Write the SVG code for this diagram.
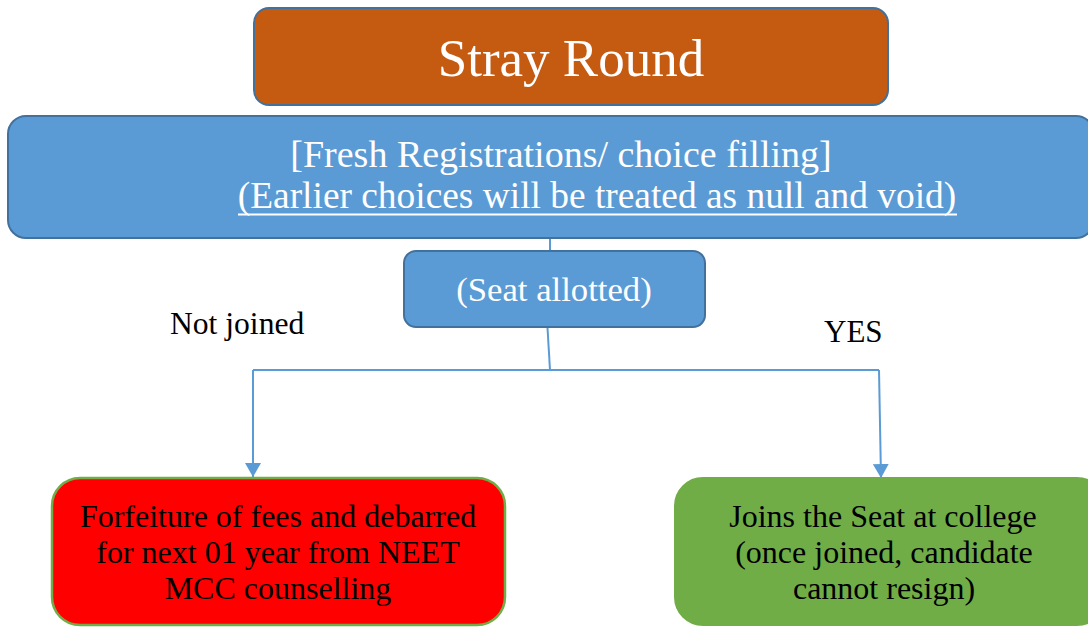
<svg xmlns="http://www.w3.org/2000/svg" width="1088" height="627" viewBox="0 0 1088 627">
<style>
text{font-family:'Liberation Serif','Times New Roman',serif;}
.w{fill:#FFFFFF;}
.k{fill:#000000;}
.c{fill:none;stroke:#5B9BD5;stroke-width:2;}
</style>
<defs>
<marker id="ah" markerUnits="userSpaceOnUse" markerWidth="16" markerHeight="16" refX="14" refY="8" orient="auto">
<path d="M0,0 L14,8 L0,16 Z" fill="#5B9BD5"/>
</marker>
</defs>
<rect width="1088" height="627" fill="#FFFFFF"/>
<g id="connectors">
<line class="c" x1="550" y1="238" x2="550" y2="251"/>
<line class="c" x1="547.5" y1="328" x2="550" y2="370"/>
<polyline class="c" points="253,370 879,370"/>
<line class="c" x1="253" y1="370" x2="253" y2="477" marker-end="url(#ah)"/>
<line class="c" x1="879" y1="370" x2="881" y2="478" marker-end="url(#ah)"/>
</g>
<g id="stray-round">
<rect x="254" y="8" width="634" height="97" rx="15" fill="#C55A11" stroke="#41719C" stroke-width="2"/>
<text class="w" x="571" y="76" font-size="53" text-anchor="middle">Stray Round</text>
</g>
<g id="fresh-registration">
<rect x="8" y="116" width="1086" height="122" rx="18" fill="#5B9BD5" stroke="#41719C" stroke-width="2"/>
<text class="w" x="561" y="167" font-size="38" text-anchor="middle">[Fresh Registrations/ choice filling]</text>
<text class="w" x="597" y="208" font-size="37.4" text-anchor="middle">(Earlier choices will be treated as null and void)</text>
<line x1="238" y1="214.5" x2="957" y2="214.5" stroke="#FFFFFF" stroke-width="2"/>
</g>
<g id="seat-allotted">
<rect x="404" y="251" width="301" height="76" rx="12" fill="#5B9BD5" stroke="#41719C" stroke-width="2"/>
<text class="w" x="554" y="301" font-size="34.7" text-anchor="middle">(Seat allotted)</text>
</g>
<g id="label-not-joined">
<text class="k" x="170" y="334" font-size="31.6">Not joined</text>
</g>
<g id="label-yes">
<text class="k" x="824" y="342" font-size="31">YES</text>
</g>
<g id="forfeiture">
<rect x="52" y="478" width="453" height="147" rx="28" fill="#FF0000" stroke="#70AD47" stroke-width="2.5"/>
<text class="k" font-size="32" text-anchor="middle"><tspan x="278" y="527">Forfeiture of fees and debarred</tspan><tspan x="278" y="563">for next 01 year from NEET</tspan><tspan x="278" y="599">MCC counselling</tspan></text>
</g>
<g id="joins-seat">
<rect x="675" y="478" width="430" height="147" rx="28" fill="#70AD47" stroke="#70AD47" stroke-width="2"/>
<text class="k" font-size="32" text-anchor="middle"><tspan x="883" y="527">Joins the Seat at college</tspan><tspan x="884" y="563">(once joined, candidate</tspan><tspan x="884" y="599">cannot resign)</tspan></text>
</g>
</svg>
